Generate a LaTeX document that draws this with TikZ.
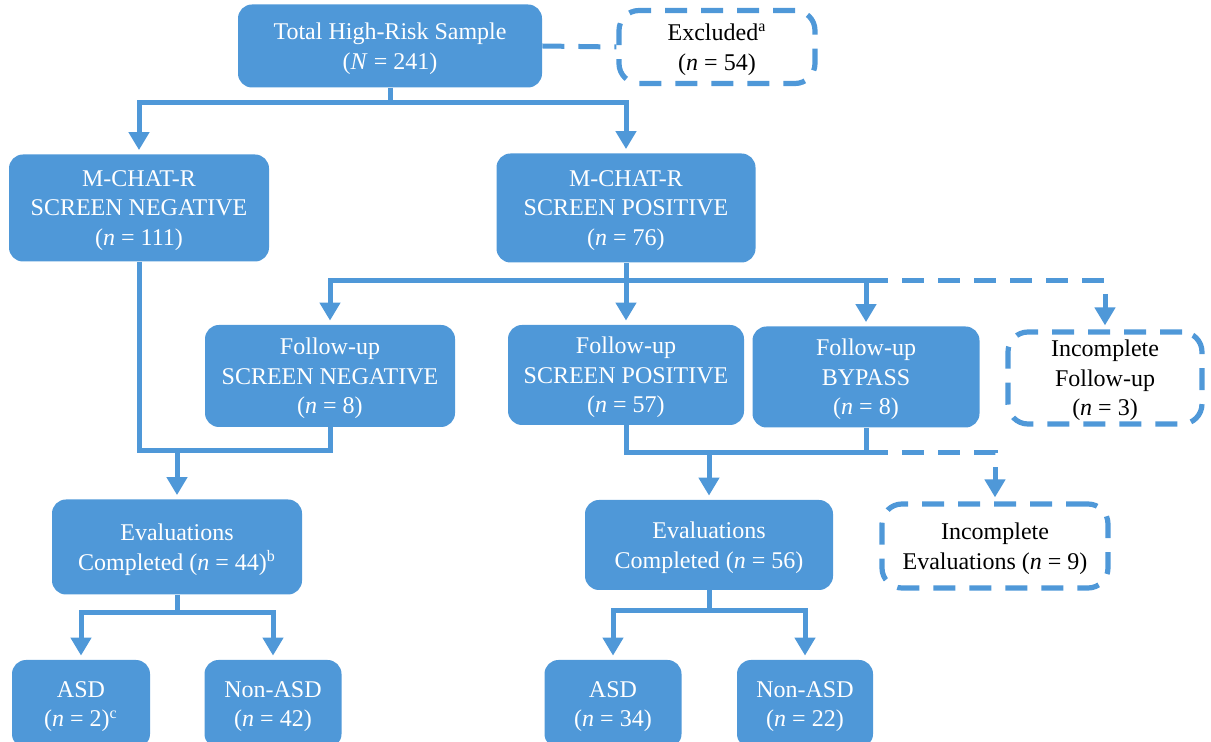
\documentclass[tikz,border=0pt]{standalone}
\usepackage{fontspec}
\setmainfont{Liberation Serif}
\usepackage{xcolor}
\usepackage{tikz}
\usetikzlibrary{arrows.meta,calc}
\definecolor{flowblue}{RGB}{79,152,216}

\begin{document}
\begin{tikzpicture}[x=0.5pt, y=-0.5pt, >={Triangle[width=10pt,length=9pt]},
  box/.style={rectangle, rounded corners=7pt, fill=flowblue, text=white, align=center,
    inner sep=0pt, text depth=-5.4pt, font=\fontsize{12}{14.8}\selectfont},
  lost/.style={rectangle, rounded corners=10pt, draw=flowblue, line width=2.6pt,
    dash pattern=on 11pt off 7pt, text=black, align=center, inner sep=0pt,
    text depth=-5.4pt, font=\fontsize{12}{14.8}\selectfont},
  link/.style={draw=flowblue, line width=2.5pt},
  lostlink/.style={link, dash pattern=on 11pt off 7pt}]
  \useasboundingbox (0,0) rectangle (1211,742);
  \clip (0,0) rectangle (1211,742);

  \node[box, minimum width=152pt, minimum height=41.5pt] (total) at (390,46)
    {Total High-Risk Sample\\(\textit{N} = 241)};
  \node[lost, minimum width=98pt, minimum height=36.5pt] (excl) at (717,47)
    {Excluded\textsuperscript{a}\\(\textit{n} = 54)};

  \node[box, minimum width=130pt, minimum height=53.5pt] (mneg) at (139,208)
    {M-CHAT-R\\SCREEN NEGATIVE\\(\textit{n} = 111)};
  \node[box, minimum width=129.5pt, minimum height=54.5pt] (mpos) at (626,208)
    {M-CHAT-R\\SCREEN POSITIVE\\(\textit{n} = 76)};

  \node[box, minimum width=125pt, minimum height=51pt] (fneg) at (330,376)
    {Follow-up\\SCREEN NEGATIVE\\(\textit{n} = 8)};
  \node[box, minimum width=118pt, minimum height=50pt] (fpos) at (626,375)
    {Follow-up\\SCREEN POSITIVE\\(\textit{n} = 57)};
  \node[box, minimum width=113.5pt, minimum height=50.5pt] (byp) at (866,377)
    {Follow-up\\BYPASS\\(\textit{n} = 8)};
  \node[lost, minimum width=97pt, minimum height=46pt] (incf) at (1105,378)
    {Incomplete\\Follow-up\\(\textit{n} = 3)};

  \node[box, minimum width=125pt, minimum height=47.5pt] (eval1) at (177,547)
    {Evaluations\\Completed (\textit{n} = 44)\textsuperscript{b}};
  \node[box, minimum width=124pt, minimum height=45pt] (eval2) at (709,545)
    {Evaluations\\Completed (\textit{n} = 56)};
  \node[lost, minimum width=113pt, minimum height=42pt] (ineval) at (995,546)
    {Incomplete\\Evaluations (\textit{n} = 9)};

  \node[box, minimum width=69pt, minimum height=44pt] (asd1) at (81,704)
    {ASD\\(\textit{n} = 2)\textsuperscript{c}};
  \node[box, minimum width=68.5pt, minimum height=44pt] (nasd1) at (273,704)
    {Non-ASD\\(\textit{n} = 42)};
  \node[box, minimum width=68.5pt, minimum height=44pt] (asd2) at (613,704)
    {ASD\\(\textit{n} = 34)};
  \node[box, minimum width=68pt, minimum height=44pt] (nasd2) at (805,704)
    {Non-ASD\\(\textit{n} = 22)};

  \draw[lostlink] (total.east) -- (excl.west);
  \draw[link, ->, shorten >=2pt] (total.south) -- ++(0,15) -| (mneg.north);
  \draw[link, ->, shorten >=2pt] (total.south) -- ++(0,15) -| (mpos.north);

  \coordinate (split) at ($(mpos.south)+(0,18)$);
  \draw[link, ->, shorten >=2pt] (mpos.south) -- (split) -| (fneg.north);
  \draw[link, ->, shorten >=2pt] (mpos.south) -- (fpos.north);
  \draw[link, ->, shorten >=2pt] (split) -| (byp.north);
  \draw[lostlink, ->, shorten >=2pt] (split -| byp.north) -| (incf.north);

  \coordinate (low1) at ($(fneg.south)+(0,23)$);
  \draw[link] (mneg.south) -- (mneg.south |- low1) -- (low1) -- (fneg.south);
  \draw[link, ->, shorten >=2pt] (eval1.north |- low1) -- (eval1.north);

  \coordinate (low2) at ($(fpos.south)+(0,27)$);
  \draw[link] (fpos.south) -- (fpos.south |- low2) -- (byp.south |- low2) -- (byp.south);
  \draw[link, ->, shorten >=2pt] (eval2.north |- low2) -- (eval2.north);
  \draw[lostlink, ->, shorten >=2pt] (byp.south |- low2) -| (ineval.north);

  \draw[link, ->, shorten >=2pt] (eval1.south) -- ++(0,18) -| (asd1.north);
  \draw[link, ->, shorten >=2pt] (eval1.south) -- ++(0,18) -| (nasd1.north);
  \draw[link, ->, shorten >=2pt] (eval2.south) -- ++(0,20) -| (asd2.north);
  \draw[link, ->, shorten >=2pt] (eval2.south) -- ++(0,20) -| (nasd2.north);
\end{tikzpicture}
\end{document}
